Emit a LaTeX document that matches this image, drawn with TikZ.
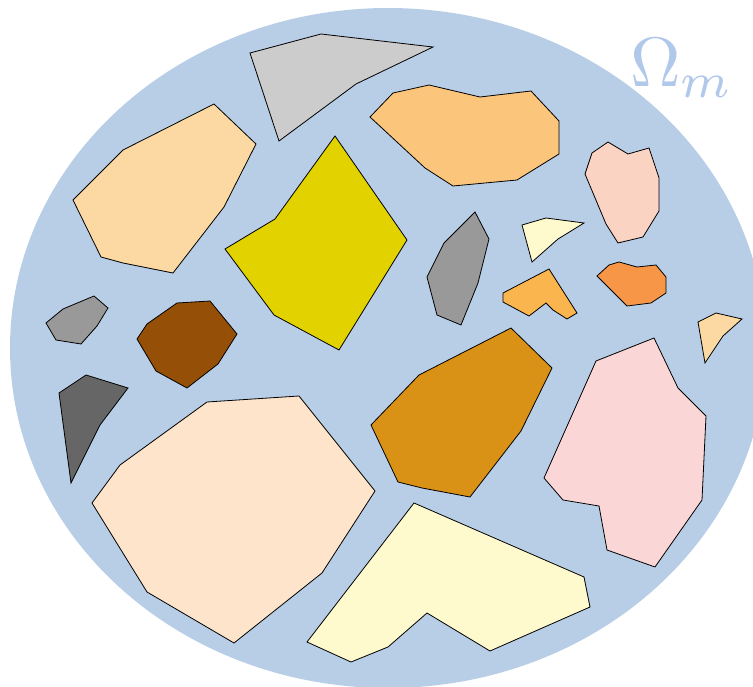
\documentclass[tikz,border=0pt]{standalone}
\definecolor{cDomain}{RGB}{184,206,230}
\definecolor{labelc}{RGB}{176,200,234}
\definecolor{cLgray}{RGB}{204,204,204}
\definecolor{cPeach}{RGB}{252,217,162}
\definecolor{cYellow}{RGB}{225,210,0}
\definecolor{cLorange}{RGB}{251,197,124}
\definecolor{cPinkA}{RGB}{251,211,195}
\definecolor{cGray}{RGB}{153,153,153}
\definecolor{cLemon}{RGB}{255,250,205}
\definecolor{cOrangeL}{RGB}{251,181,78}
\definecolor{cOrangeD}{RGB}{247,150,70}
\definecolor{cPinkB}{RGB}{251,214,214}
\definecolor{cGold}{RGB}{217,145,22}
\definecolor{cBisque}{RGB}{253,228,202}
\definecolor{cDgray}{RGB}{102,102,102}
\definecolor{cBrown}{RGB}{149,79,6}
\tikzset{grain/.style={draw=black, line width=0.8pt, line join=miter}}
\begin{document}
\begin{tikzpicture}[x=1pt,y=-1pt]
\useasboundingbox (0,0) rectangle (753,687);
\clip (0,0) rectangle (753,687);
\fill[cDomain] (388,348) ellipse [x radius=378, y radius=340];
% grains
\filldraw[grain, fill=cLgray] (250,53) -- (321,34) -- (433,47) -- (356,84) -- (279,141) -- cycle;
\filldraw[grain, fill=cPeach] (214,104) -- (256,144) -- (224,207) -- (173,273) -- (123,263) -- (101,257) -- (73,200) -- (123,150) -- cycle;
\filldraw[grain, fill=cYellow] (335,136) -- (407,240) -- (339,350) -- (274,315) -- (225,249) -- (275,219) -- cycle;
\filldraw[grain, fill=cLorange] (370,117) -- (393,93) -- (429,85) -- (480,97) -- (531,91) -- (559,121) -- (559,154) -- (517,180) -- (453,186) -- (425,168) -- cycle;
\filldraw[grain, fill=cPinkA] (608,142) -- (628,154) -- (649,148) -- (659,178) -- (659,211) -- (643,237) -- (618,243) -- (606,224) -- (585,174) -- (592,153) -- cycle;
\filldraw[grain, fill=cGray] (475,212) -- (489,239) -- (478,283) -- (461,325) -- (437,315) -- (427,277) -- (444,243) -- cycle;
\filldraw[grain, fill=cLemon] (522,225) -- (546,218) -- (584,223) -- (558,239) -- (532,262) -- cycle;
\filldraw[grain, fill=cOrangeL] (503,293) -- (549,269) -- (577,313) -- (567,319) -- (553,310) -- (546,303) -- (529,316) -- (503,302) -- cycle;
\filldraw[grain, fill=cOrangeD] (597,276) -- (609,265) -- (619,262) -- (637,267) -- (656,265) -- (666,277) -- (666,293) -- (651,303) -- (627,306) -- cycle;
\filldraw[grain, fill=cPeach] (698,322) -- (716,313) -- (742,319) -- (723,336) -- (705,363) -- cycle;
\filldraw[grain, fill=cPinkB] (596,361) -- (654,338) -- (678,388) -- (706,416) -- (702,500) -- (655,567) -- (607,550) -- (599,506) -- (563,500) -- (544,478) -- cycle;
\filldraw[grain, fill=cGold] (511,328) -- (552,368) -- (521,431) -- (470,497) -- (422,488) -- (398,482) -- (371,425) -- (419,375) -- cycle;
\filldraw[grain, fill=cLemon] (414,503) -- (584,577) -- (590,607) -- (490,651) -- (427,613) -- (388,647) -- (351,662) -- (307,642) -- cycle;
\filldraw[grain, fill=cBisque] (207,402) -- (299,396) -- (375,491) -- (322,573) -- (234,643) -- (147,592) -- (92,503) -- (120,465) -- cycle;
\filldraw[grain, fill=cDgray] (59,393) -- (86,375) -- (128,388) -- (100,425) -- (71,483) -- cycle;
\filldraw[grain, fill=cGray] (46,323) -- (63,309) -- (94,296) -- (108,308) -- (97,326) -- (81,344) -- (56,340) -- cycle;
\filldraw[grain, fill=cBrown] (137,339) -- (147,324) -- (177,303) -- (210,301) -- (237,334) -- (218,364) -- (187,388) -- (156,371) -- cycle;
% label
\node[anchor=base west, inner sep=0pt, text depth=0pt, fill=white, text=labelc, scale=7] (omega) at (629,87) {$\Omega_m$};
\end{tikzpicture}
\end{document}
